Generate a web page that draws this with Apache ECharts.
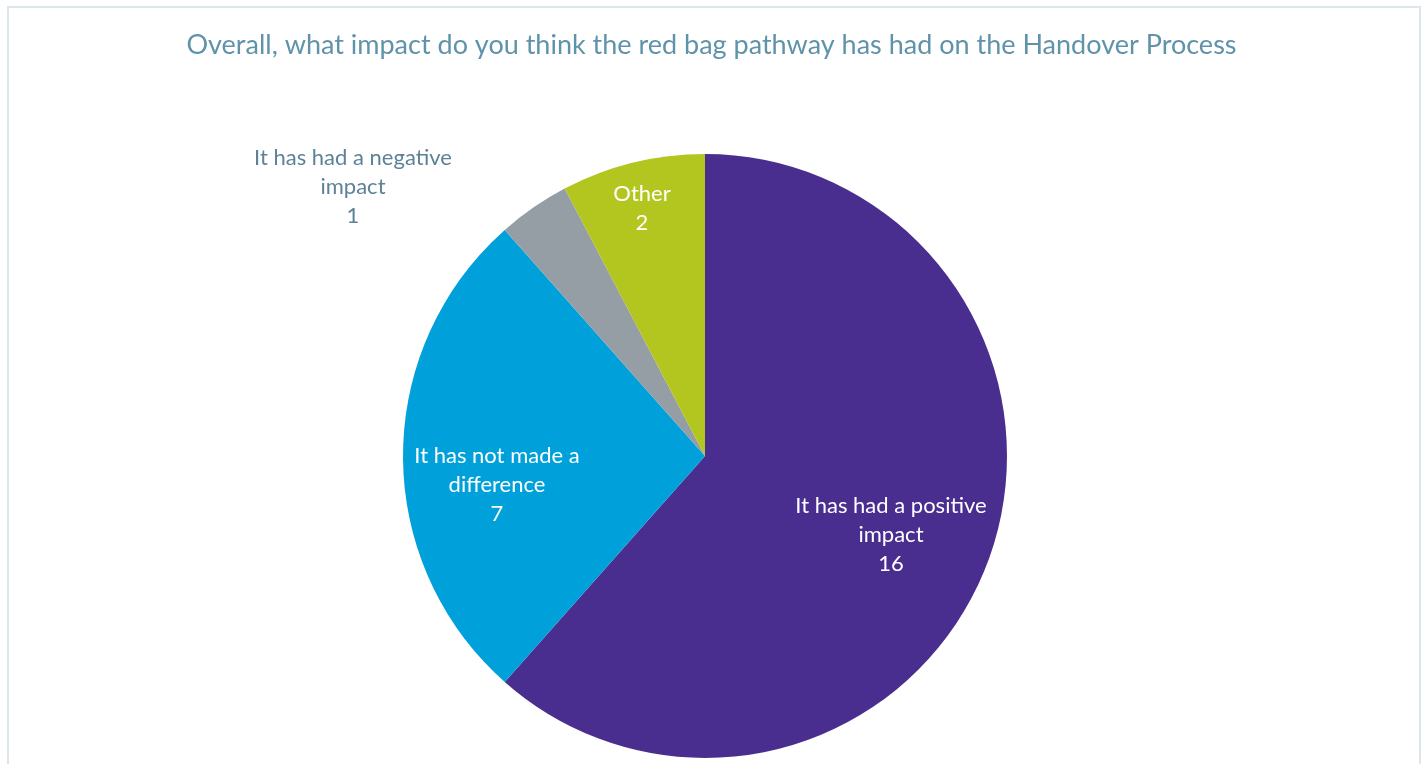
<!DOCTYPE html>
<html>
<head>
<meta charset="utf-8">
<style>
  html, body { margin: 0; padding: 0; background: #ffffff; }
  #chart { width: 1423px; height: 764px; }
</style>
<script src="https://cdn.jsdelivr.net/npm/echarts@6/dist/echarts.min.js"></script>
</head>
<body>
<div id="chart"></div>
<script>
// Survey responses: impact of the red bag pathway on handover
const categories = [
  'It has had a positive\nimpact',
  'It has not made a\ndifference',
  'It has had a negative\nimpact',
  'Other'
];
const counts = [16, 7, 1, 2];
const sliceColors = ['#4a2e8f', '#00a1da', '#959ea5', '#b3c620'];
const labelColors = ['#ffffff', '#ffffff', '#5d8296', '#ffffff'];
const titleText = 'Overall, what impact do you think the red bag pathway has had on the Handover Process';

// Label centres (px) for each slice label
const labelCentres = [[891, 535], [497, 485], [353, 187], [642, 208]];

const FONT = 'Lato, "Open Sans", sans-serif';
const chart = echarts.init(document.getElementById('chart'), null, { renderer: 'canvas' });

chart.setOption({
  backgroundColor: '#ffffff',
  animation: false,
  title: {
    text: titleText,
    left: 'center',
    top: 27,
    textStyle: { color: '#5f93aa', fontFamily: FONT, fontSize: 27, fontWeight: 'normal' }
  },
  graphic: [{
    type: 'rect',
    shape: { x: 8, y: 7, width: 1412, height: 800 },
    style: { fill: 'none', stroke: '#dce6eb', lineWidth: 2 },
    silent: true
  }],
  series: [{
    type: 'pie',
    center: [705, 456],
    radius: 302,
    startAngle: 90,
    clockwise: true,
    avoidLabelOverlap: false,
    itemStyle: { borderWidth: 0 },
    labelLine: { show: false },
    data: categories.map((name, i) => ({
      name: name,
      value: counts[i],
      itemStyle: { color: sliceColors[i] },
      label: { color: labelColors[i] }
    })),
    label: {
      show: true,
      position: 'inside',
      formatter: '{b}\n{c}',
      fontFamily: FONT,
      fontSize: 22,
      lineHeight: 29,
      align: 'center'
    },
    labelLayout: function (params) {
      const p = labelCentres[params.dataIndex];
      return { x: p[0], y: p[1], align: 'center', verticalAlign: 'middle' };
    }
  }]
});
</script>
</body>
</html>
